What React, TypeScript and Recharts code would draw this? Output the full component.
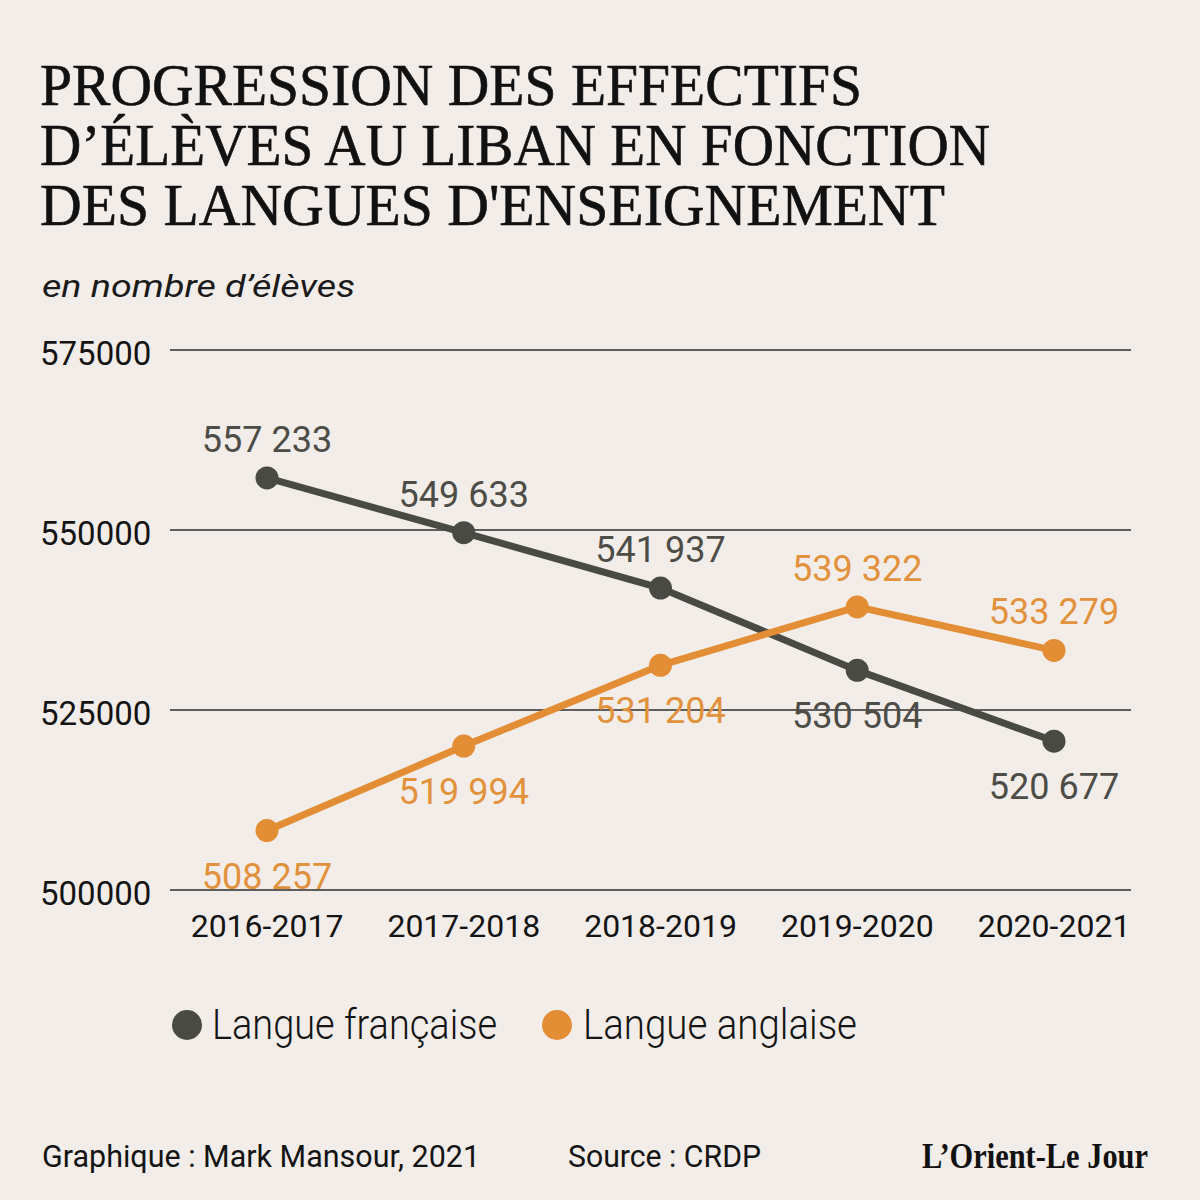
import React from "react";
import { LineChart, Line, XAxis, YAxis, CartesianGrid, LabelList } from "recharts";

const years = ["2016-2017", "2017-2018", "2018-2019", "2019-2020", "2020-2021"];
const frenchValues = [557233, 549633, 541937, 530504, 520677];
const englishValues = [508257, 519994, 531204, 539322, 533279];
const yTicks = [500000, 525000, 550000, 575000];

// where each value label sits relative to its dot
const frenchLabelSide = ["above", "above", "above", "below", "below"];
const englishLabelSide = ["below", "below", "below", "above", "above"];

const data = years.map((year, i) => ({
  year,
  fr: frenchValues[i],
  en: englishValues[i],
}));

const BG = "#f3ede9";
const DARK = "#4a4a44";
const ORANGE = "#e38d34";
const DARK_TEXT = "#4d4c47";
const ORANGE_TEXT = "#e2923c";
const SANS = "Roboto, 'Open Sans', sans-serif";
const SERIF = "'Liberation Serif', 'DejaVu Serif', serif";

const fmt = (n: number) => String(n).replace(/\B(?=(\d{3})+(?!\d))/g, " ");

const makeValueLabel = (sides: string[], color: string) => (props: any) => {
  const { x, y, value, index } = props;
  const above = sides[index] === "above";
  return (
    <text
      x={x}
      y={above ? y - 38 : y + 46}
      textAnchor="middle"
      dominantBaseline="central"
      fontFamily={SANS}
      fontSize={36}
      fill={color}
    >
      {fmt(value)}
    </text>
  );
};

const YTick = (props: any) => {
  const { y, payload } = props;
  return (
    <text x={40} y={y + 3} dominantBaseline="central" fontFamily={SANS} fontSize={33} fill="#141414">
      {payload.value}
    </text>
  );
};

const XTick = (props: any) => {
  const { x, y, payload } = props;
  return (
    <text x={x} y={y + 36} textAnchor="middle" dominantBaseline="central" fontFamily={SANS} fontSize={32} fontWeight={400} fill="#141414">
      {payload.value}
    </text>
  );
};

export default function App() {
  return (
    <div style={{ position: "absolute", top: 0, left: 0, width: 1200, height: 1200, background: BG, overflow: "hidden" }}>
      <LineChart
        width={1200}
        height={1200}
        data={data}
        margin={{ top: 350, right: 69, bottom: 250, left: 40 }}
        style={{ position: "absolute", top: 0, left: 0 }}
      >
        <CartesianGrid vertical={false} stroke="#2e2e2a" strokeWidth={1.4} />
        <XAxis
          dataKey="year"
          axisLine={false}
          tickLine={false}
          tickSize={0}
          tickMargin={0}
          height={60}
          padding={{ left: 97, right: 77 }}
          tick={<XTick />}
          interval={0}
        />
        <YAxis
          domain={[500000, 575000]}
          ticks={yTicks}
          axisLine={false}
          tickLine={false}
          width={130}
          tick={<YTick />}
        />
        <Line
          type="linear"
          dataKey="fr"
          stroke={DARK}
          strokeWidth={7}
          dot={{ r: 11.5, fill: DARK, stroke: DARK, strokeWidth: 0 }}
          isAnimationActive={false}
        >
          <LabelList dataKey="fr" content={makeValueLabel(frenchLabelSide, DARK_TEXT)} />
        </Line>
        <Line
          type="linear"
          dataKey="en"
          stroke={ORANGE}
          strokeWidth={7}
          dot={{ r: 11.5, fill: ORANGE, stroke: ORANGE, strokeWidth: 0 }}
          isAnimationActive={false}
        >
          <LabelList dataKey="en" content={makeValueLabel(englishLabelSide, ORANGE_TEXT)} />
        </Line>
      </LineChart>

      <svg width={1200} height={1200} style={{ position: "absolute", top: 0, left: 0, pointerEvents: "none" }}>
        <g fontFamily={SERIF} fontSize={60} fill="#111" stroke="#111" strokeWidth={0.6}>
          <text x={40} y={105} textLength={822} lengthAdjust="spacingAndGlyphs">PROGRESSION DES EFFECTIFS</text>
          <text x={40} y={165} textLength={950} lengthAdjust="spacingAndGlyphs">D’ÉLÈVES AU LIBAN EN FONCTION</text>
          <text x={40} y={225} textLength={905} lengthAdjust="spacingAndGlyphs">DES LANGUES D'ENSEIGNEMENT</text>
        </g>
        <text x={42} y={297} fontFamily={SANS} fontStyle="italic" fontSize={31} fill="#1a1a1a" textLength={313} lengthAdjust="spacingAndGlyphs">
          en nombre d’élèves
        </text>

        {/* legend */}
        <circle cx={187} cy={1025} r={15} fill={DARK} />
        <text x={212} y={1039} fontFamily={SANS} fontWeight={300} fontSize={42} fill="#141414" textLength={285} lengthAdjust="spacingAndGlyphs">
          Langue française
        </text>
        <circle cx={557} cy={1025} r={15} fill={ORANGE} />
        <text x={583} y={1039} fontFamily={SANS} fontWeight={300} fontSize={42} fill="#141414" textLength={274} lengthAdjust="spacingAndGlyphs">
          Langue anglaise
        </text>

        {/* footer */}
        <text x={42} y={1167} fontFamily={SANS} fontSize={31} fill="#141414" textLength={438} lengthAdjust="spacingAndGlyphs">
          Graphique : Mark Mansour, 2021
        </text>
        <text x={568} y={1167} fontFamily={SANS} fontSize={31} fill="#141414" textLength={193} lengthAdjust="spacingAndGlyphs">
          Source : CRDP
        </text>
        <text x={922} y={1168} fontFamily={SERIF} fontWeight={700} fontSize={36} fill="#111" textLength={226} lengthAdjust="spacingAndGlyphs">
          L’Orient-Le Jour
        </text>
      </svg>
    </div>
  );
}
